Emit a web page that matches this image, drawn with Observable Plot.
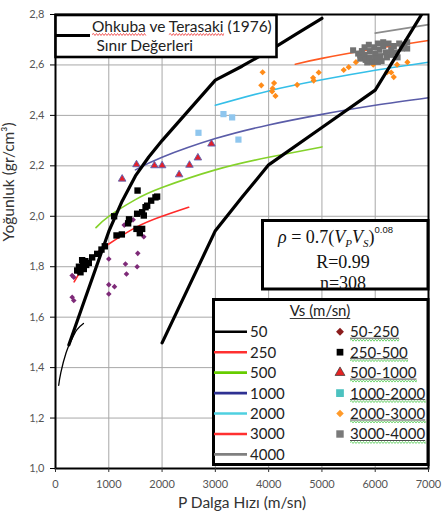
<!DOCTYPE html>
<html><head><meta charset="utf-8">
<script src="https://cdn.jsdelivr.net/npm/d3@7"></script>
<script src="https://cdn.jsdelivr.net/npm/@observablehq/plot@0.6"></script>
<style>body{margin:0;background:#fff;} #chart{width:447px;height:520px;}</style>
</head><body><div id="chart"></div>
<script>
// ---- axis ticks
const xTicks = [0,1000,2000,3000,4000,5000,6000,7000];
const yTicks = [1.0,1.2,1.4,1.6,1.8,2.0,2.2,2.4,2.6,2.8];

// ---- Vs curves
const curveVs = [50,250,500,1000,2000,3000,4000];
const curveColors = ["#000000","#ff2a2a","#84d22a","#5a5ca8","#35bfe8","#ff5a22","#8c8c8c"];
const legendLineColors = ["#000000","#ff3030","#66cc00","#2e3192","#4fd0e0","#ff3030","#808080"];
const curveVp = [
  [60,100,200,300,400,525],
  [350,500,750,1000,1500,2000,2500],
  [760,1000,1500,2000,3000,4000,5000],
  [1500,2000,3000,4000,5000,6000,7000],
  [3000,4000,5000,6000,7000],
  [4500,5000,6000,7000],
  [6000,7000]
];
const curveRho = [
  [1.33,1.38,1.46,1.51,1.55,1.575],
  [1.74,1.79,1.85,1.89,1.955,2.00,2.036],
  [1.955,2.00,2.066,2.114,2.184,2.234,2.275],
  [2.184,2.234,2.308,2.362,2.404,2.44,2.47],
  [2.44,2.497,2.541,2.579,2.611],
  [2.603,2.626,2.664,2.697],
  [2.726,2.76]
];

// ---- Ohkuba ve Terasaki (1976) boundaries
const leftVp  = [250,500,750,1000,1250,1500,1750,2000,2500,3000,3500,4000,4500,5000];
const leftRho = [1.49,1.64,1.79,1.94,2.06,2.16,2.235,2.30,2.42,2.54,2.595,2.655,2.72,2.785];
const rightVp  = [2000,2500,3000,3500,4000,5000,6000,6900];
const rightRho = [1.498,1.72,1.943,2.075,2.204,2.352,2.50,2.81];

// ---- measured points by Vs class
const s1Vp  = [313,343,313,343,1000,1000,1107,1000,1313,1332,1532,1544,1657,1290,1457];
const s1Rho = [1.765,1.758,1.679,1.666,1.831,1.729,1.721,1.692,1.811,1.771,1.800,1.853,1.919,1.965,1.986];

const s2Vp  = [407,469,531,500,576,625,688,782,863,925,440,455,560,520,
               1100,1145,1245,1363,1380,1540,1532,1626,1657,1720,1795,1876,1907,1520,1626,1582,1690];
const s2Rho = [1.785,1.778,1.791,1.826,1.807,1.815,1.837,1.851,1.868,1.881,1.800,1.785,1.822,1.808,
               2.000,1.924,1.928,1.972,1.988,2.102,2.010,2.016,2.003,2.042,2.062,2.075,2.078,1.950,1.950,1.933,2.036];

const s3Vp  = [1251,1520,1857,2001,2320,2514,2672,2927];
const s3Rho = [2.148,2.205,2.201,2.201,2.165,2.203,2.232,2.287];

const s4Vp  = [2683,3152,3315,3433];
const s4Rho = [2.331,2.405,2.392,2.304];

const s5Vp  = [3887,3862,4102,4074,4128,4065,4535,4834,4846,4940,5409,5503,5638,5963,6223,6300,6348,6410,6604];
const s5Rho = [2.571,2.519,2.528,2.507,2.477,2.495,2.521,2.549,2.538,2.570,2.580,2.591,2.611,2.601,2.571,2.570,2.552,2.601,2.611];

const s6Vp  = [5585,5680,5720,5720,5750,5800,5800,5820,5850,5880,5900,5900,5950,5980,6000,6000,6050,6050,6080,6100,6120,6150,6150,6200,6220,6250,6300,6300,6350,6400,6420,6450,6500,6550,6600,6600];
const s6Rho = [2.658,2.645,2.640,2.625,2.655,2.670,2.640,2.620,2.610,2.680,2.655,2.630,2.612,2.670,2.645,2.625,2.685,2.612,2.660,2.635,2.615,2.675,2.690,2.650,2.630,2.685,2.660,2.640,2.675,2.650,2.630,2.685,2.665,2.680,2.690,2.665];

const classLabels = ["50-250","250-500","500-1000","1000-2000","2000-3000","3000-4000"];

// ---- plot
const curveMarks = curveVs.map((vs,i) => Plot.line(curveVp[i], {
  x: curveVp[i], y: curveRho[i], stroke: curveColors[i],
  strokeWidth: i === 0 ? 1.3 : 1.6, curve: "natural"
}));

const svg = Plot.plot({
  width: 447, height: 520,
  marginLeft: 55, marginRight: 19, marginTop: 14, marginBottom: 52,
  style: {fontFamily: "Lato, sans-serif", background: "#fff", overflow: "visible"},
  x: {domain: [0,7000]},
  y: {domain: [1.0,2.8]},
  marks: [
    Plot.gridX(xTicks, {stroke: "#a8a8a8", strokeOpacity: 1, strokeWidth: 1}),
    Plot.gridY(yTicks, {stroke: "#a8a8a8", strokeOpacity: 1, strokeWidth: 1}),
    ...curveMarks,
    Plot.dot(s1Vp, {x: s1Vp, y: s1Rho, symbol: "diamond2", fill: "#7e2a78", r: 2.5}),
    Plot.dot(s2Vp, {x: s2Vp, y: s2Rho, symbol: "square", fill: "#000", r: 3.6}),
    Plot.dot(s3Vp, {x: s3Vp, y: s3Rho, symbol: "triangle", fill: "#e3202a", stroke: "#5a64b4", strokeWidth: 0.9, r: 2.8}),
    Plot.dot(s4Vp, {x: s4Vp, y: s4Rho, symbol: "square", fill: "#8fc6ee", r: 3.5}),
    Plot.dot(s5Vp, {x: s5Vp, y: s5Rho, symbol: "diamond2", fill: "#ff8c1a", r: 2.8}),
    Plot.dot(s6Vp, {x: s6Vp, y: s6Rho, symbol: "square", fill: "#727272", r: 3.4}),
    Plot.line(leftVp, {x: leftVp, y: leftRho, stroke: "#000", strokeWidth: 3.2, clip: true}),
    Plot.line(rightVp, {x: rightVp, y: rightRho, stroke: "#000", strokeWidth: 3.2, clip: true}),
    Plot.frame({stroke: "#000", strokeWidth: 2}),
    Plot.axisX(xTicks, {tickSize: 4, tickPadding: 8, fontSize: 11, color: "#555", stroke: "#333", label: null, tickFormat: d => String(d)}),
    Plot.axisY(yTicks, {tickSize: 5, tickPadding: 6, fontSize: 11, color: "#555", stroke: "#000", label: null, tickFormat: d => d.toFixed(1).replace(".", ",")}),
    Plot.text(["P Dalga Hızı (m/sn)"], {frameAnchor: "bottom", dy: 39, fontSize: 15.5, fill: "#333"}),
    Plot.text(["Yoğunluk (gr/cm³)"], {frameAnchor: "left", dx: -46, rotate: -90, fontSize: 15.5, fill: "#333"})
  ]
});
document.getElementById("chart").append(svg);

// ---- legend boxes
const root = d3.select(svg).append("g").attr("font-family", "Lato, sans-serif").attr("text-anchor", "start");
function wavy(x0, x1, y, color) {
  let p = `M${x0},${y}`, up = true;
  for (let x = x0; x < x1; x += 1.5) { p += ` L${Math.min(x+1.5,x1)},${y + (up ? -1 : 1)}`; up = !up; }
  root.append("path").attr("d", p).attr("fill", "none").attr("stroke", color).attr("stroke-width", 0.8);
}

// top-left box
root.append("rect").attr("x", 55.5).attr("y", 15).attr("width", 221).attr("height", 42)
  .attr("fill", "#fff").attr("stroke", "#000").attr("stroke-width", 2.6);
root.append("line").attr("x1", 56).attr("x2", 90).attr("y1", 35.5).attr("y2", 35.5)
  .attr("stroke", "#000").attr("stroke-width", 3);
const t1 = root.append("text").attr("x", 92).attr("y", 32).attr("font-size", 15.5).attr("fill", "#222")
  .text("Ohkuba ve Terasaki (1976)");
root.append("text").attr("x", 96.5).attr("y", 50.5).attr("font-size", 15.5).attr("fill", "#222")
  .text("Sınır Değerleri");
{
  const node = t1.node();
  const w1 = node.getSubStringLength(0, 6);
  const s2 = node.getSubStringLength(0, 10), w2 = node.getSubStringLength(10, 8);
  wavy(92, 92 + w1, 34.5, "#e33");
  wavy(92 + s2, 92 + s2 + w2, 34.5, "#e33");
}

// formula box
root.append("rect").attr("x", 262.5).attr("y", 220.5).attr("width", 165.5).attr("height", 68.5)
  .attr("fill", "#fff").attr("stroke", "#000").attr("stroke-width", 3);
const f = root.append("text").attr("x", 278).attr("y", 243).attr("font-family", "Liberation Serif, serif")
  .attr("font-size", 18).attr("fill", "#111");
f.append("tspan").attr("font-style", "italic").text("ρ");
f.append("tspan").text(" = 0.7(");
f.append("tspan").attr("font-style", "italic").text("V");
f.append("tspan").attr("font-style", "italic").attr("font-size", 11).attr("dy", 4).text("P");
f.append("tspan").attr("font-style", "italic").attr("dy", -4).text("V");
f.append("tspan").attr("font-style", "italic").attr("font-size", 11).attr("dy", 4).text("S");
f.append("tspan").attr("dy", -4).text(")");
f.append("tspan").attr("font-family", "Liberation Sans, sans-serif").attr("font-size", 9.5).attr("dy", -10).text("0.08");
root.append("text").attr("x", 343).attr("y", 268).attr("text-anchor", "middle").attr("font-family", "Liberation Serif, serif")
  .attr("font-size", 18).attr("fill", "#111").text("R=0.99");
root.append("text").attr("x", 343).attr("y", 288.5).attr("text-anchor", "middle").attr("font-family", "Liberation Serif, serif")
  .attr("font-size", 18).attr("fill", "#111").text("n=308");

// Vs legend box
root.append("rect").attr("x", 213.5).attr("y", 299.5).attr("width", 214.5).attr("height", 165)
  .attr("fill", "#fff").attr("stroke", "#000").attr("stroke-width", 3);
const title = root.append("text").attr("x", 320).attr("y", 316).attr("text-anchor", "middle")
  .attr("font-size", 15).attr("fill", "#222").text("Vs (m/sn)");
{
  const w = title.node().getComputedTextLength();
  root.append("line").attr("x1", 320 - w/2).attr("x2", 320 + w/2).attr("y1", 318.5).attr("y2", 318.5)
    .attr("stroke", "#222").attr("stroke-width", 0.9);
}
const rowY = [331.7,352.2,372.6,393.1,413.5,434.0,454.4];
curveVs.forEach((vs, i) => {
  root.append("line").attr("x1", 214).attr("x2", 247).attr("y1", rowY[i]).attr("y2", rowY[i])
    .attr("stroke", legendLineColors[i]).attr("stroke-width", 2.6);
  root.append("text").attr("x", 250).attr("y", rowY[i]).attr("dy", "0.36em").attr("font-size", 15)
    .attr("fill", "#222").text(String(vs));
});
const legSym = [d3.symbolDiamond2, d3.symbolSquare, d3.symbolTriangle, d3.symbolSquare, d3.symbolDiamond2, d3.symbolSquare];
const legFill = ["#8b1c1c", "#000", "#e52222", "#4cc2c0", "#ff9a2a", "#7a7a7a"];
const legSize = [40, 45, 42, 60, 36, 55];
classLabels.forEach((lab, i) => {
  const y = rowY[i];
  root.append("path").attr("transform", `translate(340,${y})`)
    .attr("d", d3.symbol(legSym[i], legSize[i])())
    .attr("fill", legFill[i]).attr("stroke", i === 2 ? "#333" : "none").attr("stroke-width", 0.7);
  const t = root.append("text").attr("x", 350).attr("y", y).attr("dy", "0.36em").attr("font-size", 15)
    .attr("fill", "#222").text(lab);
  const w = t.node().getComputedTextLength();
  root.append("line").attr("x1", 350).attr("x2", 350 + w).attr("y1", y + 6.5).attr("y2", y + 6.5)
    .attr("stroke", "#222").attr("stroke-width", 0.8);
  wavy(350, 350 + w, y + 8.5, "#5c5");
});
</script></body></html>
